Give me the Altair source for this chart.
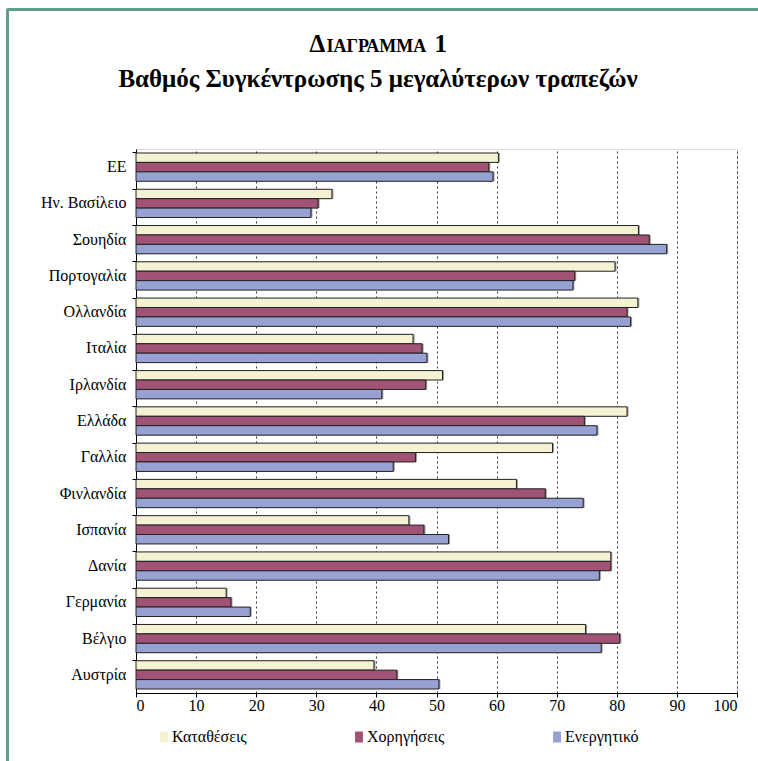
import altair as alt
import pandas as pd

countries = ["ΕΕ", "Ην. Βασίλειο", "Σουηδία", "Πορτογαλία", "Ολλανδία", "Ιταλία",
             "Ιρλανδία", "Ελλάδα", "Γαλλία", "Φινλανδία", "Ισπανία", "Δανία",
             "Γερμανία", "Βέλγιο", "Αυστρία"]
series = ["Καταθέσεις", "Χορηγήσεις", "Ενεργητικό"]
deposits = [60.3, 32.6, 83.6, 79.7, 83.5, 46.1, 51.0, 81.7, 69.3, 63.3, 45.4, 79.0, 15.0, 74.8, 39.6]
loans = [58.7, 30.3, 85.4, 73.0, 81.7, 47.6, 48.2, 74.6, 46.5, 68.1, 47.9, 79.0, 15.8, 80.5, 43.4]
assets = [59.4, 29.1, 88.3, 72.7, 82.3, 48.4, 40.9, 76.7, 42.8, 74.4, 52.0, 77.1, 19.0, 77.4, 50.4]
x_ticks = [0, 10, 20, 30, 40, 50, 60, 70, 80, 90, 100]
title_big_1 = ["Δ"]
title_small = ["ΙΑΓΡΑΜΜΑ"]
title_big_2 = ["1"]
title_line2 = ["Βαθμός Συγκέντρωσης 5 μεγαλύτερων τραπεζών"]
colors = ["#f4f2d2", "#a05375", "#97a2d3"]

rows = []
for vals, s in zip([deposits, loans, assets], series):
    for c, v in zip(countries, vals):
        rows.append({"country": c, "series": s, "value": v})
df = pd.DataFrame(rows)

FONT = "Liberation Serif"
W, H = 601, 544

y_enc = alt.Y("country:N", sort=countries, title=None,
              scale=alt.Scale(paddingInner=0.22, paddingOuter=0.11),
              axis=alt.Axis(labelFont=FONT, labelFontSize=16, labelColor="black",
                            labelPadding=6, tickSize=4, tickColor="black",
                            domainColor="black", bandPosition=0, grid=False))
x_enc = alt.X("value:Q", title=None,
              scale=alt.Scale(domain=[0, 100], nice=False),
              axis=alt.Axis(values=x_ticks, labelFont=FONT, labelFontSize=16,
                            labelColor="black", tickSize=4, tickColor="black",
                            domainColor="black", labelPadding=0,
                            grid=True, gridColor="#333333", gridDash=[2, 3],
                            gridWidth=1))
yoff = alt.YOffset("series:N", sort=series)

shadow = alt.Chart(df).mark_bar(color="#9a9a9a", xOffset=1.5, yOffset=1.5).encode(
    y=y_enc, x=x_enc, yOffset=yoff)

bars = alt.Chart(df).mark_bar(stroke="#222222", strokeWidth=1).encode(
    y=y_enc, x=x_enc, yOffset=yoff,
    color=alt.Color("series:N", sort=series,
                    scale=alt.Scale(domain=series, range=colors),
                    legend=alt.Legend(title=None, orient="none", legendX=20, legendY=580,
                                      direction="horizontal", columns=3,
                                      columnPadding=104,
                                      symbolType="M-0.72,-1H0.72V1H-0.72Z",
                                      symbolSize=121, symbolStrokeWidth=0,
                                      labelFont=FONT, labelFontSize=16,
                                      labelColor="black", labelOffset=0)))

frame_top = alt.Chart(df).mark_rule(color="#5e9e8b", strokeWidth=2).encode(
    x=alt.value(-129), x2=alt.value(622), y=alt.value(-139.5))
frame_left = alt.Chart(df).mark_rule(color="#5e9e8b", strokeWidth=2).encode(
    x=alt.value(-128.5), y=alt.value(-140), y2=alt.value(612))

def txt(values, size, x, y, align, weight="bold"):
    return alt.Chart(pd.DataFrame({"t": values})).mark_text(
        font=FONT, fontSize=size, fontWeight=weight, color="black",
        align=align, baseline="alphabetic").encode(
        text="t:N", x=alt.value(x), y=alt.value(y))

t1 = txt(title_big_1, 25, 309.5 - 136, 52 - 149, "left")
t2 = txt(title_small, 18, 326.5 - 136, 52 - 149, "left")
t3 = txt(title_big_2, 25, 447 - 136, 52 - 149, "right")
t4 = txt(title_line2, 25, 378 - 136, 87 - 149, "center")

chart = alt.layer(frame_top, frame_left, shadow, bars, t1, t2, t3, t4).properties(
    width=W, height=H,
    autosize=alt.AutoSizeParams(type="none"),
    padding={"left": 136, "top": 149, "right": 21, "bottom": 68},
).configure_view(stroke=None).configure(background="white")

chart.save("out.html", embed_options={"renderer": "svg", "actions": False})
